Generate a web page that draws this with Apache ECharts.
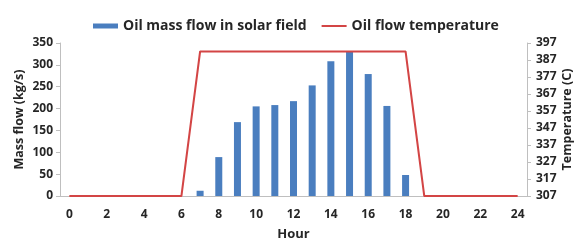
<!DOCTYPE html>
<html>
<head>
<meta charset="utf-8">
<script src="https://cdn.jsdelivr.net/npm/echarts@6/dist/echarts.min.js"></script>
<style>
  html, body { margin: 0; padding: 0; background: #fff; }
  #chart { width: 575px; height: 241px; }
</style>
</head>
<body>
<div id="chart"></div>
<script>
// hours of the day (category axis)
var hours = [0, 1, 2, 3, 4, 5, 6, 7, 8, 9, 10, 11, 12, 13, 14, 15, 16, 17, 18, 19, 20, 21, 22, 23, 24]
// oil mass flow in solar field, kg/s
var massFlow = [0, 0, 0, 0, 0, 0, 0, 12, 89, 169, 205, 208, 217, 253, 308, 331, 279, 206, 48, 0, 0, 0, 0, 0, 0]
// oil flow temperature, C
var oilTemp = [307, 307, 307, 307, 307, 307, 307, 392, 392, 392, 392, 392, 392, 392, 392, 392, 392, 392, 392, 307, 307, 307, 307, 307, 307]
// right axis tick labels
var tempTicks = [307, 317, 327, 337, 347, 357, 367, 377, 387, 397]

var font = 'Open Sans'
var axisGray = '#bfbfbf'
var textColor = '#262626'
var red = '#d34545'
// thin line legend icon (tiny corner marks keep the 25x5 box)
var lineIcon = 'path://M0,0L0.01,0L0,0.01Z M0,1.5L25,1.5L25,3.5L0,3.5Z M25,5L24.99,5L25,4.99Z'

var myChart = echarts.init(document.getElementById('chart'))
var option = {
  backgroundColor: '#fff',
  animation: false,
  textStyle: { fontFamily: font },
  legend: {
    left: 88,
    top: 14,
    itemGap: 15,
    itemWidth: 25,
    itemHeight: 5,
    textStyle: { fontFamily: font, fontSize: 14, fontWeight: 'bold', color: textColor },
    data: [
      { name: 'Oil mass flow in solar field', icon: 'rect' },
      { name: 'Oil flow temperature', icon: lineIcon, itemStyle: { color: red } }
    ]
  },
  grid: {
    left: 60,
    right: 48,
    top: 43,
    bottom: 45,
    outerBoundsMode: 'none'
  },
  xAxis: {
    type: 'category',
    data: hours,
    boundaryGap: true,
    name: 'Hour',
    nameLocation: 'middle',
    nameGap: 32,
    nameMoveOverlap: false,
    nameTextStyle: { fontFamily: font, fontSize: 13, fontWeight: 'bold', color: textColor },
    axisLine: { lineStyle: { color: axisGray } },
    axisTick: { interval: 0, length: 4, lineStyle: { color: axisGray } },
    axisLabel: { interval: 1, margin: 13, fontFamily: font, fontSize: 12, fontWeight: 'bold', color: textColor }
  },
  yAxis: [{
    type: 'value',
    min: 0,
    max: 350,
    interval: 50,
    name: 'Mass flow (kg/s)',
    nameLocation: 'middle',
    nameRotate: 90,
    nameGap: 34,
    nameMoveOverlap: false,
    nameTextStyle: { fontFamily: font, fontSize: 12.5, fontWeight: 'bold', color: textColor },
    axisLine: { show: true, lineStyle: { color: axisGray } },
    axisTick: { show: true, length: 4, lineStyle: { color: axisGray } },
    axisLabel: { margin: 7, fontFamily: font, fontSize: 12, fontWeight: 'bold', color: textColor },
    splitLine: { show: false }
  }, {
    type: 'value',
    min: 307,
    max: 397,
    name: 'Temperature (C)',
    nameLocation: 'middle',
    nameRotate: 90,
    nameGap: 34,
    nameMoveOverlap: false,
    nameTextStyle: { fontFamily: font, fontSize: 12.5, fontWeight: 'bold', color: textColor },
    axisLine: { show: true, lineStyle: { color: axisGray } },
    axisTick: { show: true, length: 4, customValues: tempTicks, lineStyle: { color: axisGray } },
    axisLabel: { margin: 9, customValues: tempTicks, fontFamily: font, fontSize: 12, fontWeight: 'bold', color: textColor },
    splitLine: { show: false }
  }],
  series: [{
    name: 'Oil mass flow in solar field',
    type: 'bar',
    barWidth: 7,
    itemStyle: { color: '#4a7ebf' },
    data: massFlow
  }, {
    name: 'Oil flow temperature',
    type: 'line',
    yAxisIndex: 1,
    symbol: 'none',
    lineStyle: { color: red, width: 2 },
    itemStyle: { color: red },
    data: oilTemp
  }]
}
myChart.setOption(option)
window.addEventListener('resize', function () {
  myChart.resize()
})
</script>
</body>
</html>
